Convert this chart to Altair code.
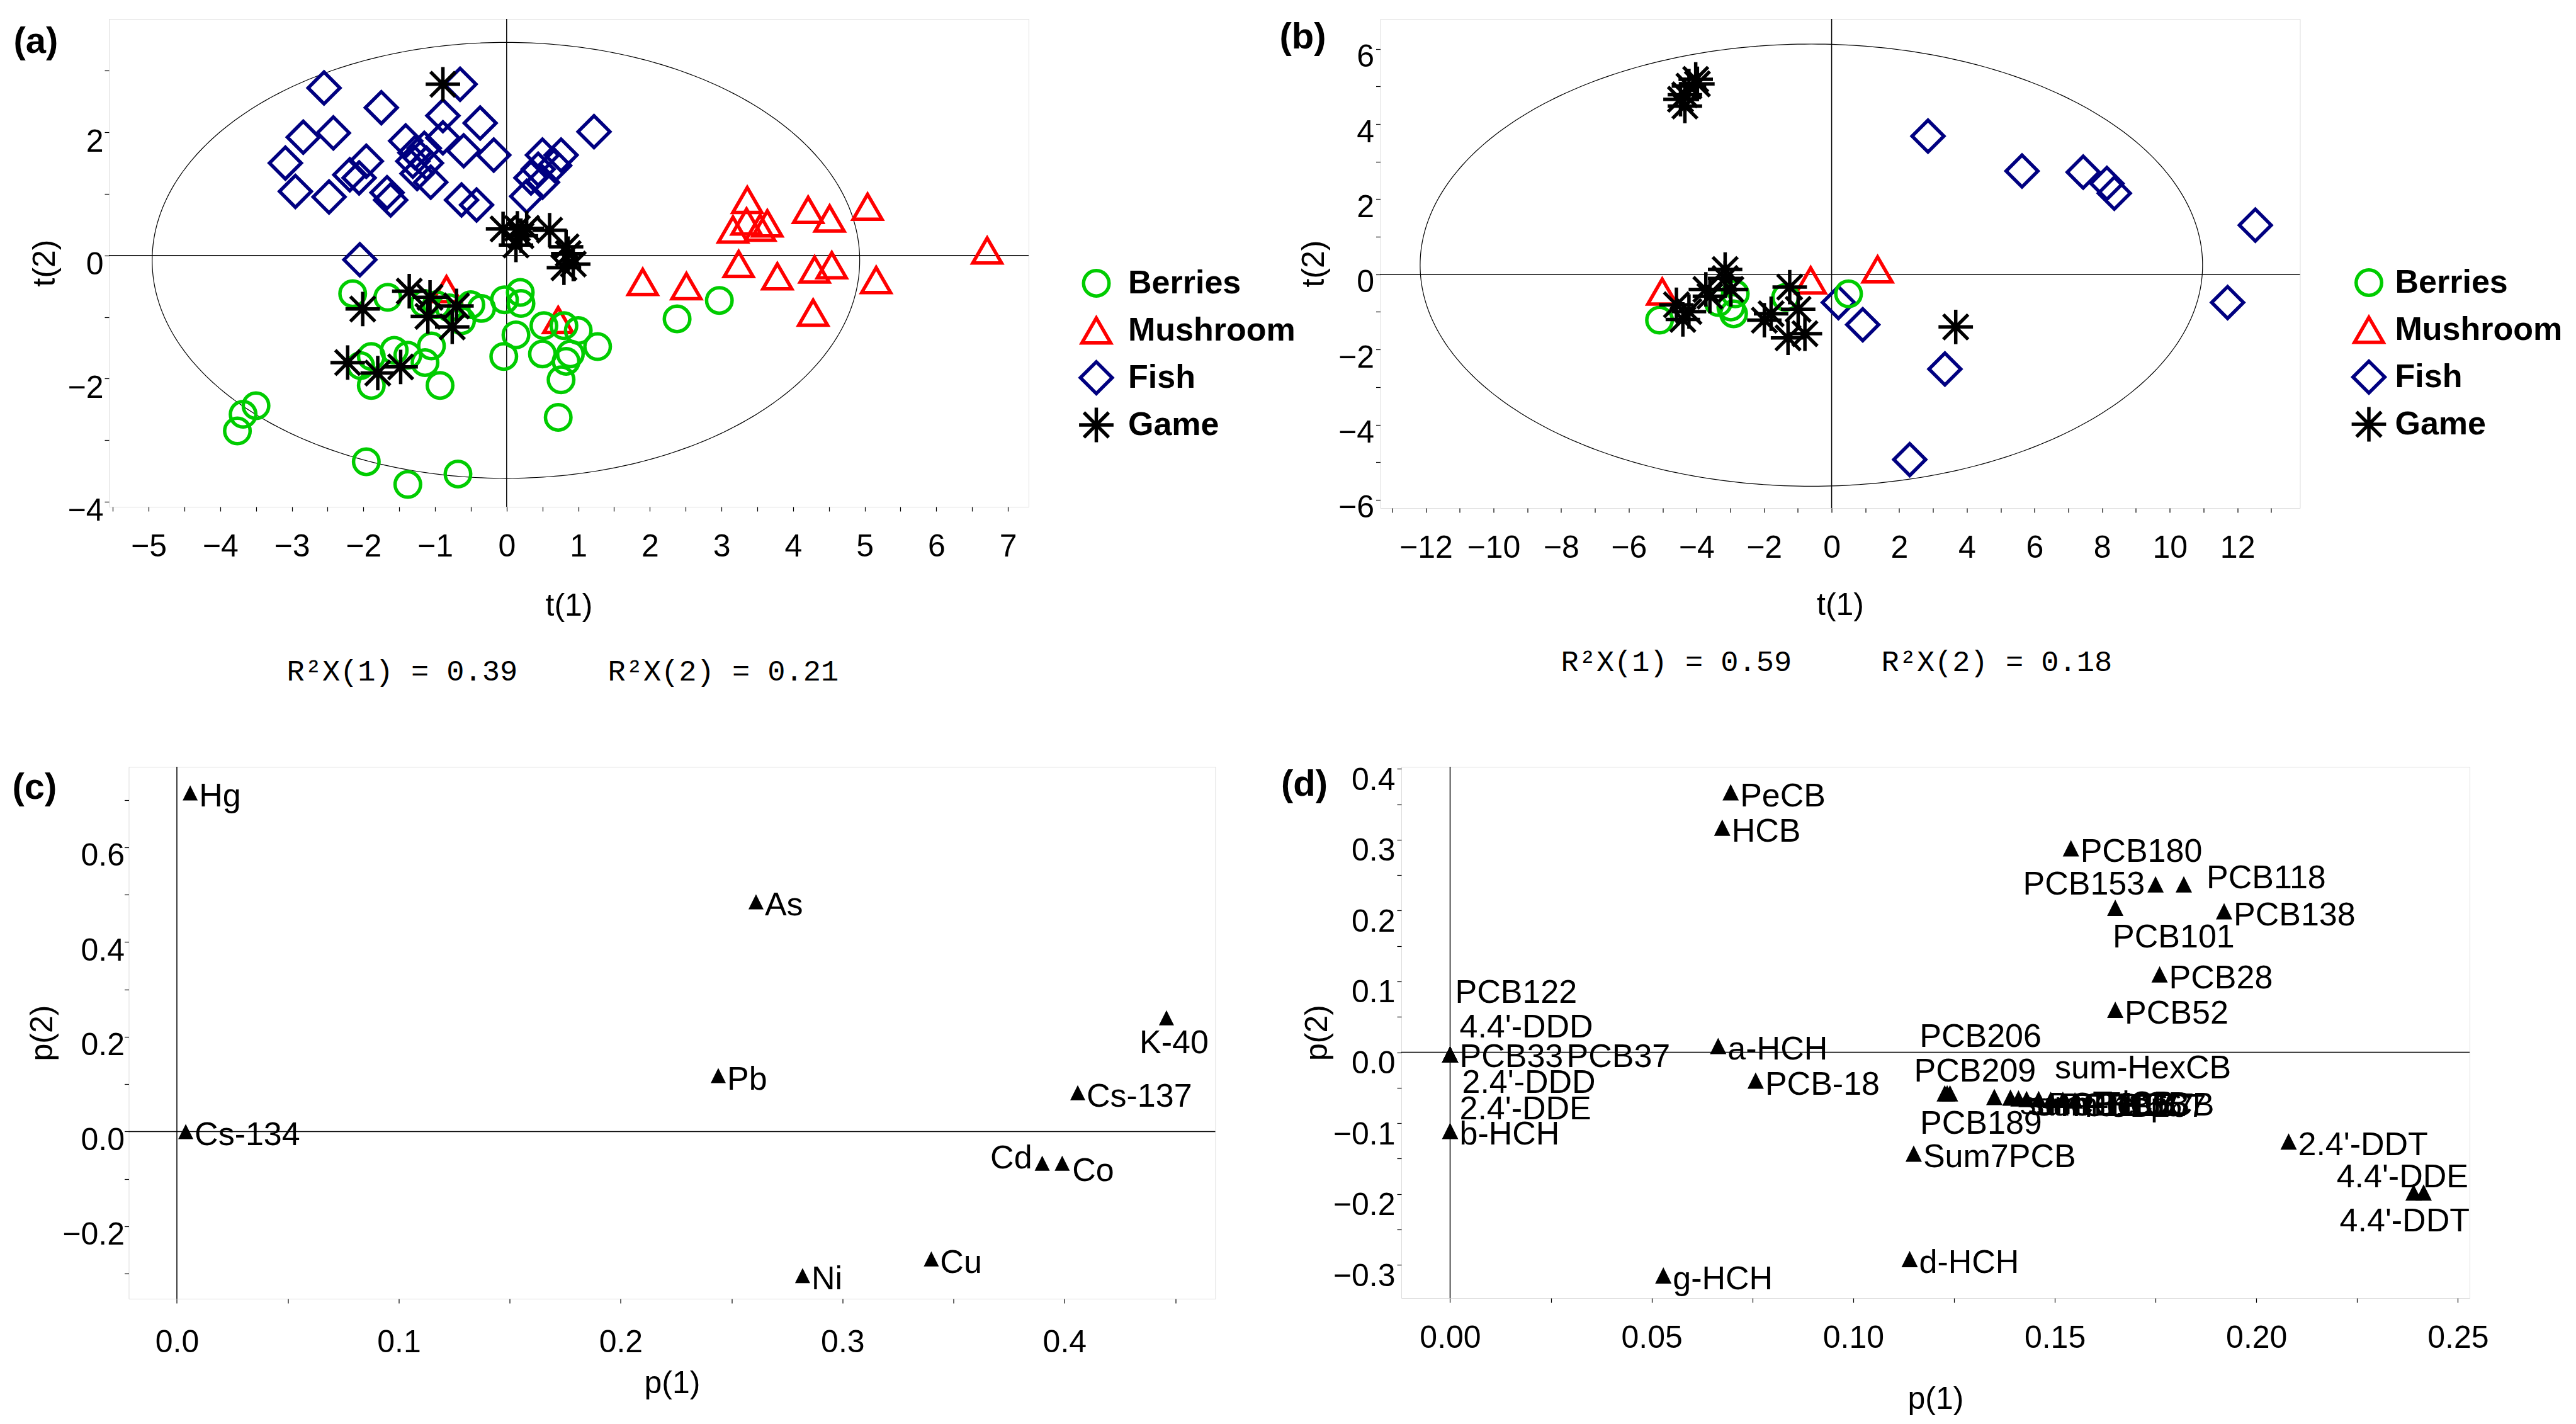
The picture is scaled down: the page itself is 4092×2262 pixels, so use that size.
import altair as alt
import pandas as pd

FONT = "Liberation Sans"
MONO = "Liberation Mono"

GROUPS = ["Berries", "Mushroom", "Fish", "Game"]
COLORS = ["#00CC00", "#FF0000", "#000080", "#000000"]
ASTERISK = "M0,-1L0,1M-1,0L1,0M-0.72,-0.72L0.72,0.72M-0.72,0.72L0.72,-0.72"
SHAPES = ["circle", "triangle-up", "diamond", ASTERISK]
SIZES = [1640, 3000, 3136, 1936]
DRAW_ORDER = ["Mushroom", "Fish", "Berries", "Game"]
TRI = "M0,-1L1,1L-1,1Z"

# ---------------- (a) scores ----------------
a_berries_t1 = [-2.15, -1.66, -1.15, -0.98, -0.80, -0.50, -0.35, -0.03, 0.19, 0.20, -0.63, 2.97, 2.38,
                0.52, 0.80, 1.00, 1.27, 0.89, 0.50, 0.13, -0.04, 0.76, 0.72, -1.05, -1.14, -1.38, -1.57,
                -1.89, -2.04, -1.89, -0.93, -3.50, -3.68, -3.76, -1.96, -1.38, -0.68, 0.83]
a_berries_t2 = [-0.62, -0.68, -0.78, -0.80, -0.85, -0.80, -0.86, -0.72, -0.60, -0.78, -1.06, -0.73, -1.03,
                -1.14, -1.14, -1.22, -1.48, -1.60, -1.60, -1.29, -1.64, -2.02, -2.63, -1.47, -1.74, -1.62, -1.54,
                -1.64, -1.79, -2.11, -2.11, -2.44, -2.58, -2.85, -3.35, -3.72, -3.55, -1.72]
a_mushroom_t1 = [6.71, 3.36, 3.35, 3.16, 3.64, 3.54, 4.21, 4.51, 5.04, 3.24, 3.78, 4.30, 4.54, 5.16, 4.28,
                 1.90, 2.51, 0.72, -0.84]
a_mushroom_t2 = [0.08, 0.90, 0.55, 0.42, 0.52, 0.45, 0.74, 0.60, 0.79, -0.14, -0.34, -0.23, -0.16, -0.40, -0.93,
                 -0.43, -0.50, -1.05, -0.55]
a_fish_t1 = [-2.55, -1.75, -0.65, -0.89, -0.37, 1.22, -2.84, -2.42, -3.09, -2.95, -2.48, -1.96, -2.06, -2.19,
             -1.62, -1.67, -1.41, -1.28, -1.31, -1.15, -1.12, -1.25, -1.06, -0.89, -0.60, -0.18, -0.63, -0.42,
             0.50, 0.76, 0.67, 0.34, 0.44, 0.28, 0.50, -2.05]
a_fish_t2 = [2.72, 2.40, 2.78, 2.27, 2.15, 2.01, 1.92, 1.99, 1.50, 1.04, 0.95, 1.53, 1.26, 1.31,
             0.90, 1.02, 1.86, 1.67, 1.53, 1.74, 1.50, 1.33, 1.19, 1.91, 1.70, 1.63, 0.90, 0.82,
             1.63, 1.63, 1.46, 1.26, 1.40, 0.96, 1.19, -0.07]
a_game_t1 = [-0.89, -0.05, 0.15, 0.28, 0.13, 0.20, 0.60, 0.83, 0.86, 0.80, 0.93, -2.01, -1.36, -1.07,
             -0.70, -1.10, -0.76, -2.22, -1.80, -1.48]
a_game_t2 = [2.78, 0.43, 0.44, 0.44, 0.17, 0.32, 0.41, 0.14, 0.03, -0.20, -0.14, -0.87, -0.58, -0.68,
             -0.82, -0.99, -1.16, -1.74, -1.91, -1.81]

# ---------------- (b) scores ----------------
b_berries_t1 = [-5.09, -3.35, -2.98, -2.90, -2.85, -1.36, 0.50]
b_berries_t2 = [-1.22, -0.75, -0.87, -1.05, -0.52, -0.61, -0.52]
b_mushroom_t1 = [-5.01, -0.62, 1.36]
b_mushroom_t2 = [-0.46, -0.16, 0.13]
b_fish_t1 = [2.85, 5.63, 7.44, 8.14, 8.36, 12.53, 11.71, 0.20, 0.92, 3.35, 2.31]
b_fish_t2 = [3.68, 2.75, 2.72, 2.42, 2.16, 1.31, -0.75, -0.75, -1.34, -2.52, -4.93]
b_game_t1 = [-4.34, -4.22, -4.02, -3.97, -4.34, -4.47, -4.59, -4.22, -4.40, -3.72, -3.60, -3.15, -3.15, -2.98,
             -1.99, -1.79, -1.24, -0.99, -1.29, -0.79, 3.67]
b_game_t2 = [4.78, 5.01, 5.19, 5.07, 4.48, 4.66, -0.81, -0.99, -1.20, -0.40, -0.58, 0.13, -0.11, -0.40,
             -1.22, -1.05, -0.34, -0.93, -1.69, -1.58, -1.40]

# ---------------- (c) loadings ----------------
c_names = ["Hg", "As", "K-40", "Pb", "Cs-137", "Cs-134", "Cd", "Co", "Cu", "Ni"]
c_p1 = [0.006, 0.261, 0.446, 0.244, 0.406, 0.004, 0.390, 0.399, 0.340, 0.282]
c_p2 = [0.715, 0.485, 0.240, 0.118, 0.082, 0.000, -0.067, -0.067, -0.269, -0.304]

# ---------------- (d) loadings ----------------
d_names = ["PeCB", "HCB", "PCB180", "PCB153", "PCB118", "PCB101", "PCB138", "PCB28", "PCB52", "a-HCH", "PCB-18",
           "PCB122", "4.4'-DDD", "PCB33", "PCB37", "2.4'-DDD", "2.4'-DDE", "b-HCH",
           "PCB206", "PCB209", "PCB189", "sum-HexCB", "sum-TriCB", "sum-TetCB", "sum-HepCB", "PCB105",
           "PCB156", "PCB157", "PCB167", "Sum7PCB", "2.4'-DDT", "4.4'-DDE", "4.4'-DDT", "d-HCH", "g-HCH"]
d_p1 = [0.0696, 0.0675, 0.154, 0.175, 0.182, 0.165, 0.192, 0.176, 0.165, 0.0665, 0.0758,
        0.0, 0.0, 0.0, 0.0, 0.0, 0.0, 0.0,
        0.1227, 0.1240, 0.1233, 0.135, 0.139, 0.141, 0.143, 0.146,
        0.149, 0.152, 0.155, 0.115, 0.208, 0.239, 0.2415, 0.114, 0.0529]
d_p2 = [0.367, 0.317, 0.288, 0.237, 0.237, 0.204, 0.199, 0.110, 0.060, 0.009, -0.040,
        -0.003, -0.003, -0.003, -0.003, -0.003, -0.003, -0.111,
        -0.058, -0.058, -0.058, -0.063, -0.064, -0.065, -0.066, -0.066,
        -0.067, -0.067, -0.068, -0.143, -0.126, -0.198, -0.198, -0.292, -0.315]

# label placements (align, dx, dy) -- styling only
C_DEFAULT = ("left", 14, 6)
C_STYLE = {"K-40": ("center", 12, 40), "Cd": ("right", -16, -8), "Co": ("left", 16, 12)}
D_DEFAULT = ("left", 15, 6)
D_STYLE = {
    "PCB153": ("right", -17, 0), "PCB118": ("left", 36, -10), "PCB101": ("left", -4, 47),
    "PCB122": ("left", 8, -98), "4.4'-DDD": ("left", 15, -43), "PCB33": ("left", 15, 4),
    "PCB37": ("left", 185, 4), "2.4'-DDD": ("left", 19, 45), "2.4'-DDE": ("left", 15, 87),
    "PCB206": ("left", -40, -90), "PCB209": ("left", -57, -35), "PCB189": ("left", -43, 48),
    "sum-HexCB": ("left", 96, -45), "4.4'-DDE": ("right", 87, -24), "4.4'-DDT": ("right", 73, 46),
    "sum-TriCB": ("left", 15, 10), "sum-TetCB": ("left", 15, 10), "sum-HepCB": ("left", 15, 10),
    "PCB105": ("left", 15, 10), "PCB156": ("left", 15, 10), "PCB157": ("left", 15, 10),
    "PCB167": ("left", 15, 10),
}


def ticks(i0, i1, step):
    return [round(i * step, 6) + 0.0 for i in range(i0, i1 + 1)]


def lab_expr(step, fmt):
    return ("abs(datum.value / %s - round(datum.value / %s)) < 0.001 ? "
            "replace(format(datum.value, '%s'), '-', '\u2212') : ''") % (step, step, fmt)


def axis(title, values, step, fmt, label_pad, title_pad, label_off=0):
    return alt.Axis(title=title, values=values, labelExpr=lab_expr(step, fmt), grid=False, domain=False,
                    ticks=True, tickSize=7, tickWidth=1.2, tickColor="black",
                    labelFont=FONT, labelFontSize=50, labelColor="black", labelPadding=label_pad,
                    labelOverlap=False, labelFlush=False, labelOffset=label_off,
                    titleFont=FONT, titleFontSize=50, titleFontWeight="normal", titleColor="black",
                    titlePadding=title_pad)


def text_layer(s, x, y, font=FONT, size=58, weight="bold", baseline="top"):
    return alt.Chart(pd.DataFrame({"s": [s]})).mark_text(
        align="left", baseline=baseline, font=font, fontSize=size, fontWeight=weight, color="black"
    ).encode(text="s:N", x=alt.value(x), y=alt.value(y))


def score_panel(groups, W, H, xdom, ydom, xaxis, yaxis, ell, legend, letter, lpos, r2, r2pos):
    rows = []
    for g in DRAW_ORDER:
        xs, ys = groups[g]
        for x, y in zip(xs, ys):
            rows.append({"t1": x, "t2": y, "group": g})
    df = pd.DataFrame(rows)
    xs = alt.Scale(domain=xdom, nice=False, zero=False)
    ys = alt.Scale(domain=ydom, nice=False, zero=False)
    cx, cy, ra, rb = ell
    ellipse = alt.Chart(alt.sequence(0, 361, 1, as_="deg")).transform_calculate(
        t1="%s + %s * cos(datum.deg * PI / 180)" % (cx, ra),
        t2="%s + %s * sin(datum.deg * PI / 180)" % (cy, rb),
    ).mark_line(color="black", strokeWidth=1.2).encode(
        x=alt.X("t1:Q", scale=xs, axis=xaxis), y=alt.Y("t2:Q", scale=ys, axis=yaxis), order="deg:Q")
    zero = pd.DataFrame({"t1": [0.0], "t2": [0.0]})
    vline = alt.Chart(zero).mark_rule(color="black", strokeWidth=1.5).encode(x="t1:Q")
    hline = alt.Chart(zero).mark_rule(color="black", strokeWidth=1.5).encode(y="t2:Q")
    pts = alt.Chart(df).mark_point(filled=False, opacity=1, strokeWidth=5.5).encode(
        x="t1:Q", y="t2:Q",
        color=alt.Color("group:N", scale=alt.Scale(domain=GROUPS, range=COLORS), legend=legend),
        shape=alt.Shape("group:N", scale=alt.Scale(domain=GROUPS, range=SHAPES), legend=legend),
        size=alt.Size("group:N", scale=alt.Scale(domain=GROUPS, range=SIZES), legend=legend),
    )
    lab = text_layer(letter, lpos[0], lpos[1])
    r2a = text_layer(r2[0], r2pos[0], r2pos[2], font=MONO, size=47, weight="normal", baseline="middle")
    r2b = text_layer(r2[1], r2pos[1], r2pos[2], font=MONO, size=47, weight="normal", baseline="middle")
    return alt.layer(ellipse, vline, hline, pts, lab, r2a, r2b).properties(width=W, height=H)


def loading_panel(names, p1, p2, W, H, xdom, ydom, xaxis, yaxis, msize, default, styles, letter, lpos,
                  right_extent=None):
    df = pd.DataFrame({"name": names, "p1": p1, "p2": p2})
    xs = alt.Scale(domain=xdom, nice=False, zero=False)
    ys = alt.Scale(domain=ydom, nice=False, zero=False)
    zero = pd.DataFrame({"p1": [0.0], "p2": [0.0]})
    vline = alt.Chart(zero).mark_rule(color="black", strokeWidth=1.5).encode(
        x=alt.X("p1:Q", scale=xs, axis=xaxis))
    hline = alt.Chart(zero).mark_rule(color="black", strokeWidth=1.5).encode(
        y=alt.Y("p2:Q", scale=ys, axis=yaxis))
    base = alt.Chart(df).encode(x="p1:Q", y="p2:Q")
    pts = base.mark_point(shape=TRI, filled=True, size=msize, color="black", opacity=1)
    layers = [vline, hline, pts]
    groups = {}
    for n in names:
        groups.setdefault(styles.get(n, default), []).append(n)
    for (al, dx, dy), members in groups.items():
        layers.append(base.transform_filter(alt.FieldOneOfPredicate(field="name", oneOf=members)).mark_text(
            align=al, baseline="middle", dx=dx, dy=dy, font=FONT, fontSize=52, color="black"
        ).encode(text="name:N"))
    layers.append(text_layer(letter, lpos[0], lpos[1]))
    if right_extent is not None:
        # invisible spacer that only widens the panel's layout box
        layers.append(alt.Chart(pd.DataFrame({"k": [0]})).mark_point(size=4, opacity=0, filled=True).encode(
            x=alt.value(right_extent), y=alt.value(10)))
    return alt.layer(*layers).properties(width=W, height=H)


def make_legend(lx, ly, offset):
    return alt.Legend(title=None, orient="none", legendX=lx, legendY=ly, padding=0,
                      labelFont=FONT, labelFontSize=52, labelFontWeight="bold", labelColor="black",
                      labelOffset=offset, labelLimit=500, rowPadding=11, clipHeight=64,
                      symbolStrokeWidth=5.5)


pa = score_panel(
    {"Berries": (a_berries_t1, a_berries_t2), "Mushroom": (a_mushroom_t1, a_mushroom_t2),
     "Fish": (a_fish_t1, a_fish_t2), "Game": (a_game_t1, a_game_t2)},
    1461, 775, [-5.554, 7.289], [-4.082, 3.842],
    axis("t(1)", ticks(-11, 14, 0.5), 1, "d", 31, 44),
    axis("t(2)", ticks(-4, 3, 1), 2, "d", 2, 10, 15),
    (-0.01, -0.08, 4.94, 3.54), make_legend(1538, 388, 20),
    "(a)", (-151.5, 8), ["R\u00b2X(1) = 0.39", "R\u00b2X(2) = 0.21"], (282.5, 792.5, 1036.5))

pb = score_panel(
    {"Berries": (b_berries_t1, b_berries_t2), "Mushroom": (b_mushroom_t1, b_mushroom_t2),
     "Fish": (b_fish_t1, b_fish_t2), "Game": (b_game_t1, b_game_t2)},
    1461, 777, [-13.35, 13.85], [-6.22, 6.80],
    axis("t(1)", ticks(-13, 13, 1), 2, "d", 31, 41),
    axis("t(2)", ticks(-6, 6, 1), 2, "d", 3, 13, 13),
    (-0.6, 0.245, 11.57, 5.885), make_legend(1540, 387, 11),
    "(b)", (-160, 1), ["R\u00b2X(1) = 0.59", "R\u00b2X(2) = 0.18"], (287, 796, 1022))

pc = loading_panel(
    c_names, c_p1, c_p2, 1726, 845, [-0.0217, 0.468], [-0.353, 0.770],
    axis("p(1)", ticks(0, 9, 0.05), 0.1, ".1f", 37, 15),
    axis("p(2)", ticks(-3, 7, 0.1), 0.2, ".1f", 0, 6, 14),
    576, C_DEFAULT, C_STYLE, "(c)", (-185, 5), right_extent=1983)

pd_ = loading_panel(
    d_names, d_p1, d_p2, 1697, 844, [-0.0121, 0.2529], [-0.347, 0.403],
    axis("p(1)", ticks(0, 10, 0.025), 0.05, ".2f", 31, 47),
    axis("p(2)", ticks(-6, 8, 0.05), 0.1, ".1f", 3, 0, 18),
    676, D_DEFAULT, D_STYLE, "(d)", (-191, 0))

# tiny empty view that lets the lower row start a little further right than the upper row
spacer = alt.Chart(pd.DataFrame({"k": [0]})).mark_point(opacity=0, size=1).encode(
    x=alt.value(0), y=alt.value(0)).properties(width=1, height=1, view=alt.ViewBackground(stroke=None))

IND = dict(x="independent", y="independent", color="independent", shape="independent", size="independent")
row1 = alt.hconcat(pa, pb, spacing=-27.5).resolve_scale(**IND)
row2 = alt.hconcat(spacer, pc, pd_, spacing=-155.5).resolve_scale(x="independent", y="independent")
chart = alt.vconcat(row1, row2, spacing=123).resolve_scale(**IND).properties(
    padding={"left": 11, "top": 20, "right": 5, "bottom": 5}
).configure_view(stroke="black", strokeWidth=1.5).configure(background="white")

chart.save("out.html", embed_options={"renderer": "svg", "actions": False})
